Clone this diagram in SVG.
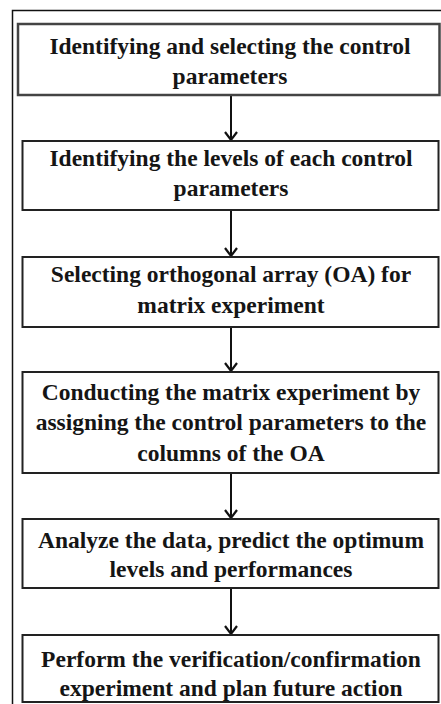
<svg xmlns="http://www.w3.org/2000/svg" width="441" height="704" viewBox="0 0 441 704">
<defs>
<marker id="arr" markerUnits="userSpaceOnUse" viewBox="-2 -8 12 16" refX="8" refY="0" markerWidth="12" markerHeight="16" orient="auto">
<path d="M0,-6 L8,0 L0,6" fill="none" stroke="#111" stroke-width="2.2"/>
</marker>
<style>
.box{fill:#fff;stroke:#222;stroke-width:2}
.t{font-family:"Liberation Serif","DejaVu Serif",serif;font-weight:bold;font-size:23.5px;fill:#151515;text-anchor:middle}
.c{stroke:#111;stroke-width:2;fill:none}
</style>
</defs>
<rect width="441" height="704" fill="#fff"/>
<rect x="12.5" y="10.5" width="440" height="700" fill="none" stroke="#111" stroke-width="1.5"/>
<g id="connectors">
<line class="c" x1="231" y1="95" x2="231" y2="140" marker-end="url(#arr)"/>
<line class="c" x1="231" y1="210" x2="231" y2="256" marker-end="url(#arr)"/>
<line class="c" x1="231" y1="327" x2="231" y2="371" marker-end="url(#arr)"/>
<line class="c" x1="231" y1="473" x2="231" y2="518" marker-end="url(#arr)"/>
<line class="c" x1="231" y1="588" x2="231" y2="634" marker-end="url(#arr)"/>
</g>
<g id="n1">
<rect class="box" x="18" y="24" width="421.5" height="71" style="stroke:#444;stroke-width:2.5"/>
<text class="t" x="230" y="54">Identifying and selecting the control</text>
<text class="t" x="230" y="84">parameters</text>
</g>
<g id="n2">
<rect class="box" x="22.5" y="141" width="416" height="69"/>
<text class="t" x="231" y="166">Identifying the levels of each control</text>
<text class="t" x="231" y="196">parameters</text>
</g>
<g id="n3">
<rect class="box" x="22.5" y="257" width="416" height="70"/>
<text class="t" x="231" y="282">Selecting  orthogonal array (OA) for</text>
<text class="t" x="231" y="313">matrix experiment</text>
</g>
<g id="n4">
<rect class="box" x="22.5" y="372" width="416" height="101"/>
<text class="t" x="231" y="400">Conducting the matrix experiment by</text>
<text class="t" x="231" y="430">assigning the control parameters to the</text>
<text class="t" x="231" y="461">columns of the OA</text>
</g>
<g id="n5">
<rect class="box" x="22.5" y="519" width="416" height="69"/>
<text class="t" x="231" y="548">Analyze the data, predict the optimum</text>
<text class="t" x="231" y="577">levels and performances</text>
</g>
<g id="n6">
<rect class="box" x="22.5" y="635" width="416" height="67"/>
<text class="t" x="231" y="667">Perform the verification/confirmation</text>
<text class="t" x="231" y="696">experiment and plan future action</text>
</g>
</svg>
